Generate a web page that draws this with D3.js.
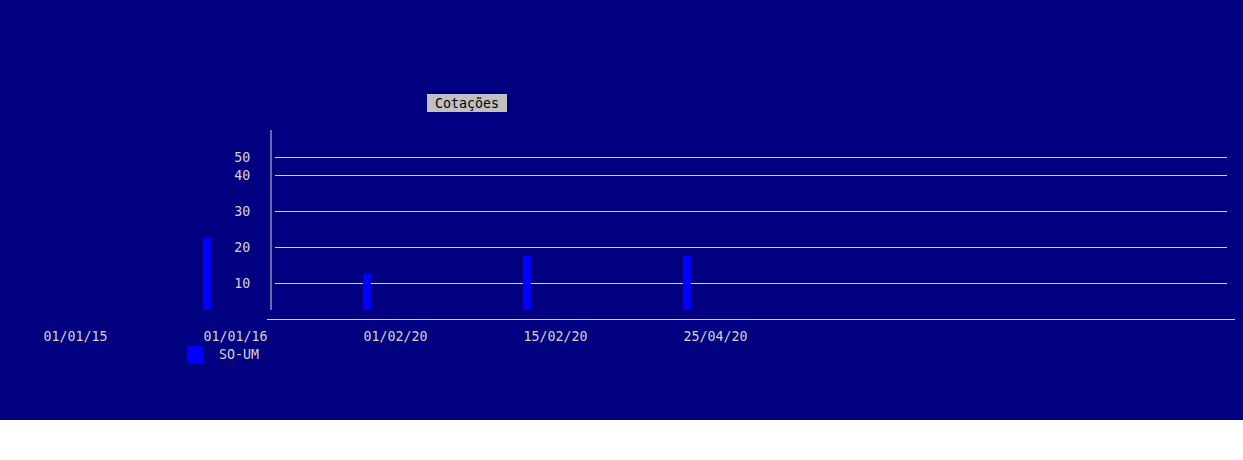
<!DOCTYPE html>
<html>
<head>
<meta charset="utf-8">
<script src="https://cdn.jsdelivr.net/npm/d3@7"></script>
<style>
  html, body { margin: 0; padding: 0; background: #ffffff; }
  svg { display: block; }
  text { font-family: "DejaVu Sans Mono", "Liberation Mono", monospace; font-size: 13.3px; }
</style>
</head>
<body>
<svg id="chart" width="1243" height="420"></svg>
<script>
// ---- data ----
const categories = ["01/01/15", "01/01/16", "01/02/20", "15/02/20", "25/04/20"];
const values = [null, 20, 10, 15, 15];
const seriesName = "SO-UM";
const yTickValues = [10, 20, 30, 40, 45];
const yTickLabels = ["10", "20", "30", "40", "50"];
const title = "Cotações";

// ---- drawing ----
const svg = d3.select("#chart");
const W = 1243, H = 420;
svg.append("rect").attr("width", W).attr("height", H).attr("fill", "#000080");

const x = d3.scalePoint().domain(categories).range([75, 715]);
const yBar = d3.scaleLinear().domain([0, 50]).range([310, 130]);
const yGrid = d3.scaleLinear().domain([0, 45]).range([319, 157]);

const textColor = "#d3d3d3";
const lineColor = "#d3d3d3";

// title
const tg = svg.append("g");
tg.append("rect").attr("x", 427).attr("y", 94).attr("width", 80).attr("height", 18).attr("fill", "#c0c0c0");
tg.append("text").attr("x", 467).attr("y", 108).attr("text-anchor", "middle").attr("fill", "#000").text(title);

// gridlines + y labels
const yAxis = d3.axisLeft(yGrid).tickValues(yTickValues).tickSize(0)
  .tickFormat((d, i) => yTickLabels[i]);
const ga = svg.append("g").attr("transform", "translate(256,0)").call(yAxis);
ga.select(".domain").remove();
ga.selectAll("text").attr("fill", textColor).attr("dx", "-0.2em")
  .style("font-family", "DejaVu Sans Mono").style("font-size", "13.3px");

svg.append("g").selectAll("line").data(yTickValues).join("line")
  .attr("x1", 275).attr("x2", 1227)
  .attr("y1", d => Math.round(yGrid(d)) + 0.5).attr("y2", d => Math.round(yGrid(d)) + 0.5)
  .attr("stroke", lineColor).attr("stroke-width", 1);

// y axis line
svg.append("line").attr("x1", 271).attr("x2", 271)
  .attr("y1", yBar(50)).attr("y2", yBar(0))
  .attr("stroke", lineColor).attr("stroke-width", 1);

// x axis line
svg.append("line").attr("x1", 267).attr("x2", 1235)
  .attr("y1", yGrid(0) + 0.5).attr("y2", yGrid(0) + 0.5)
  .attr("stroke", lineColor).attr("stroke-width", 1);

// x labels
const xAxis = d3.axisBottom(x).tickSize(0);
const gx = svg.append("g").attr("transform", "translate(0,329)").call(xAxis);
gx.select(".domain").remove();
gx.selectAll("text").attr("fill", textColor)
  .style("font-family", "DejaVu Sans Mono").style("font-size", "13.3px");

// bars
const data = categories.map((c, i) => ({ c, v: values[i] })).filter(d => d.v != null);
svg.append("g").selectAll("rect").data(data).join("rect")
  .attr("x", d => x(d.c) - 32)
  .attr("width", 8)
  .attr("y", d => yBar(d.v))
  .attr("height", d => yBar(0) - yBar(d.v))
  .attr("fill", "#0000ff");

// legend
const lg = svg.append("g");
lg.append("rect").attr("x", 187).attr("y", 346).attr("width", 16).attr("height", 17).attr("fill", "#0000ff");
lg.append("text").attr("x", 219).attr("y", 359).attr("fill", textColor).text(seriesName);
</script>
</body>
</html>
